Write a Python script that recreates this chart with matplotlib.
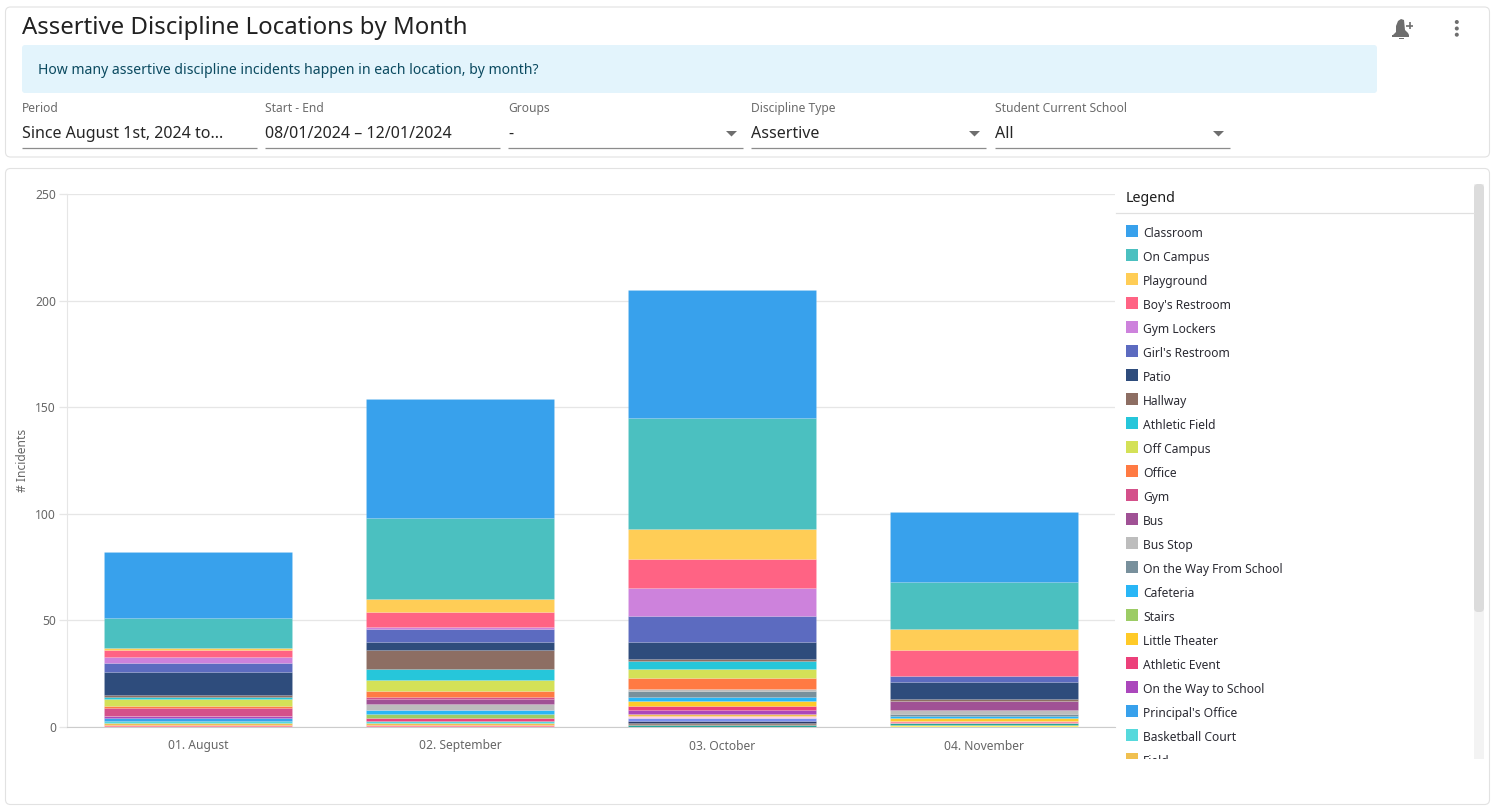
import matplotlib
matplotlib.use("Agg")
import matplotlib.pyplot as plt
from matplotlib.patches import FancyBboxPatch, Rectangle, Polygon, Circle
import numpy as np

plt.rcParams['font.family'] = ['Noto Sans', 'DejaVu Sans']

W, H = 1492, 808

months = ["01. August", "02. September", "03. October", "04. November"]
yticks = [0, 50, 100, 150, 200, 250]

# legend order, top of the stack first
locations = ["Classroom", "On Campus", "Playground", "Boy's Restroom", "Gym Lockers", "Girl's Restroom",
             "Patio", "Hallway", "Athletic Field", "Off Campus", "Office", "Gym", "Bus", "Bus Stop",
             "On the Way From School", "Cafeteria", "Stairs", "Little Theater", "Athletic Event",
             "On the Way to School", "Principal's Office", "Basketball Court", "Field"]
colors = ["#38a1ec", "#4bc0c0", "#ffcd56", "#ff6384", "#cd82dc", "#5c6bc0",
          "#2e4c7c", "#8d6e63", "#26c6da", "#d4e157", "#ff7a43", "#d4508a", "#a05195", "#bdbdbd",
          "#78909c", "#29b6f6", "#9ccc65", "#ffca28", "#ec407a",
          "#ab47bc", "#38a1ec", "#56d9dc", "#f0c050"]
# series scrolled out of the legend, only seen in the bars
hidden_colors = ["#ff8fa3", "#ffd0e6", "#7c8ff0", "#2b3a67", "#a1887f", "#26a69a", "#fff176"]

classroom = [31, 56, 60, 33]
on_campus = [14, 38, 52, 22]
playground = [1, 6, 14, 10]
boys = [3, 7, 14, 12]
gym_lockers = [3, 1, 13, 0]
girls = [4, 6, 12, 3]
patio = [11, 4, 8, 8]
hallway = [1, 9, 1, 1]
athletic_field = [1, 5, 4, 0]
off_campus = [3, 5, 4, 0]
office = [1, 3, 5, 0]
gym = [4, 1, 0, 0]
bus = [0, 2, 0, 4]
bus_stop = [0, 3, 1, 2]
way_from = [0, 0, 3, 1]
cafeteria = [0, 2, 2, 1]
stairs = [0, 2, 0, 0]
little_theater = [0, 0, 2, 1]
athletic_event = [0, 1, 2, 0]
way_to = [1, 0, 2, 0]
principal = [1, 0, 0, 0]
basketball = [1, 1, 0, 0]
field = [1, 1, 1, 0]
hidden_a = [1, 1, 0, 1]
hidden_b = [0, 0, 1, 0]
hidden_c = [0, 0, 1, 0]
hidden_d = [0, 0, 1, 0]
hidden_e = [0, 0, 1, 0]
hidden_f = [0, 0, 1, 1]
hidden_g = [0, 0, 0, 1]

series = [classroom, on_campus, playground, boys, gym_lockers, girls, patio, hallway, athletic_field,
          off_campus, office, gym, bus, bus_stop, way_from, cafeteria, stairs, little_theater,
          athletic_event, way_to, principal, basketball, field,
          hidden_a, hidden_b, hidden_c, hidden_d, hidden_e, hidden_f, hidden_g]
series_colors = colors + hidden_colors

filter_labels = ["Period", "Start - End", "Groups", "Discipline Type", "Student Current School"]
filter_values = ["Since August 1st, 2024 to...", "08/01/2024 \u2013 12/01/2024", "-", "Assertive", "All"]
filter_x = [22, 265, 508, 751, 995]
filter_dropdown = [False, False, True, True, True]


def px_axes(fig, x0, y0, x1, y1):
    ax = fig.add_axes([x0 / W, 1 - y1 / H, (x1 - x0) / W, (y1 - y0) / H])
    ax.set_xlim(x0, x1)
    ax.set_ylim(y1, y0)
    ax.axis("off")
    return ax


fig = plt.figure(figsize=(W / 100, H / 100), dpi=100, facecolor="white")

# page furniture, in pixel coordinates
ui = px_axes(fig, 0, 0, W, H)
for y0, y1 in [(7, 157), (168.5, 804.5)]:
    ui.add_patch(FancyBboxPatch((5.5, y0), 1484, y1 - y0, boxstyle="round,pad=0,rounding_size=5",
                                fc="white", ec="#e2e2e2", lw=0.8))
ui.add_patch(FancyBboxPatch((22, 45), 1355, 48, boxstyle="round,pad=0,rounding_size=3",
                            fc="#e3f4fc", ec="none"))
ui.text(22, 28, "Assertive Discipline Locations by Month", fontsize=17.25, color="#212121", va="center")
ui.text(38, 70.5, "How many assertive discipline incidents happen in each location, by month?",
        fontsize=10.08, color="#0b4a60", va="center")

for x, label, value, drop in zip(filter_x, filter_labels, filter_values, filter_dropdown):
    ui.text(x, 108.5, label, fontsize=8.7, color="#6b6b6b", va="center")
    ui.text(x, 134, value, fontsize=11.5, color="#262626", va="center")
    ui.plot([x, x + 235], [148, 148], color="#8c8c8c", lw=0.9, solid_capstyle="butt")
    if drop:
        ui.add_patch(Polygon([(x + 218, 131), (x + 229, 131), (x + 223.5, 136.5)], fc="#6e6e6e", ec="none"))

# bell and menu icons
ui.add_patch(Polygon([(1393, 35), (1396, 32), (1396, 26), (1398, 21), (1401, 19), (1404, 20),
                      (1405, 30), (1408, 33), (1409, 35)], fc="#6e6e6e", ec="none"))
ui.add_patch(Rectangle((1392, 35), 17, 1.5, fc="#6e6e6e", ec="none"))
ui.add_patch(Rectangle((1399, 37.5), 4.5, 1.5, fc="#6e6e6e", ec="none"))
ui.plot([1406, 1413], [25.5, 25.5], color="#6e6e6e", lw=1.2, solid_capstyle="butt")
ui.plot([1409.5, 1409.5], [22, 29], color="#6e6e6e", lw=1.2, solid_capstyle="butt")
for y in [22, 28.5, 34.7]:
    ui.add_patch(Circle((1456.8, y), 2, fc="#6e6e6e", ec="none"))

ui.text(22.5, 460, "# Incidents", fontsize=8.7, color="#666666", rotation=90, ha="center", va="center")

# scrollbar and legend header
ui.add_patch(Rectangle((1474, 184), 10, 575, fc="#f3f3f3", ec="none"))
ui.add_patch(FancyBboxPatch((1474, 184), 10, 428, boxstyle="round,pad=0,rounding_size=4",
                            fc="#dcdcdc", ec="none"))
ui.text(1126, 199, "Legend", fontsize=10.3, color="#1c1c1c", va="center", fontweight="medium")
ui.plot([1116, 1474], [213, 213], color="#e0e0e0", lw=0.9)

# chart
ax = fig.add_axes([67 / W, 1 - 727 / H, (1115 - 67) / W, (727 - 194) / H])
ax.patch.set_alpha(0)
x = np.arange(len(months))
bottom = np.zeros(len(months))
for vals, col in zip(reversed(series), reversed(series_colors)):
    ax.bar(x, vals, bottom=bottom, width=0.72, color=col, edgecolor=(1, 1, 1, 0.1), linewidth=0.6, zorder=3)
    bottom += np.array(vals)
ax.set_xlim(-0.5, 3.5)
ax.set_ylim(0, 250)
ax.set_xticks(x)
ax.set_xticklabels(months)
ax.set_yticks(yticks)
ax.grid(axis="y", color="#e6e6e6", lw=0.9, zorder=0)
ax.set_axisbelow(True)
ax.tick_params(axis="x", length=0, pad=9, labelsize=8.7, labelcolor="#666666")
ax.tick_params(axis="y", length=5.5, width=0.9, color="#e6e6e6", pad=2.5, labelsize=8.7, labelcolor="#666666")
for s in ["top", "right"]:
    ax.spines[s].set_visible(False)
ax.spines["left"].set_color("#e6e6e6")
ax.spines["bottom"].set_color("#cccccc")

# scrolling legend, cut at the bottom of its viewport
leg = px_axes(fig, 1116, 214, 1474, 759)
for i, (name, col) in enumerate(zip(locations, colors)):
    yc = 231 + 24 * i
    leg.add_patch(Rectangle((1126, yc - 6), 12, 12, fc=col, ec="none"))
    leg.text(1143, yc + 3, name, fontsize=8.7, color="#2b2b33", va="center", clip_on=True)

fig.savefig("out.png", dpi=100)
